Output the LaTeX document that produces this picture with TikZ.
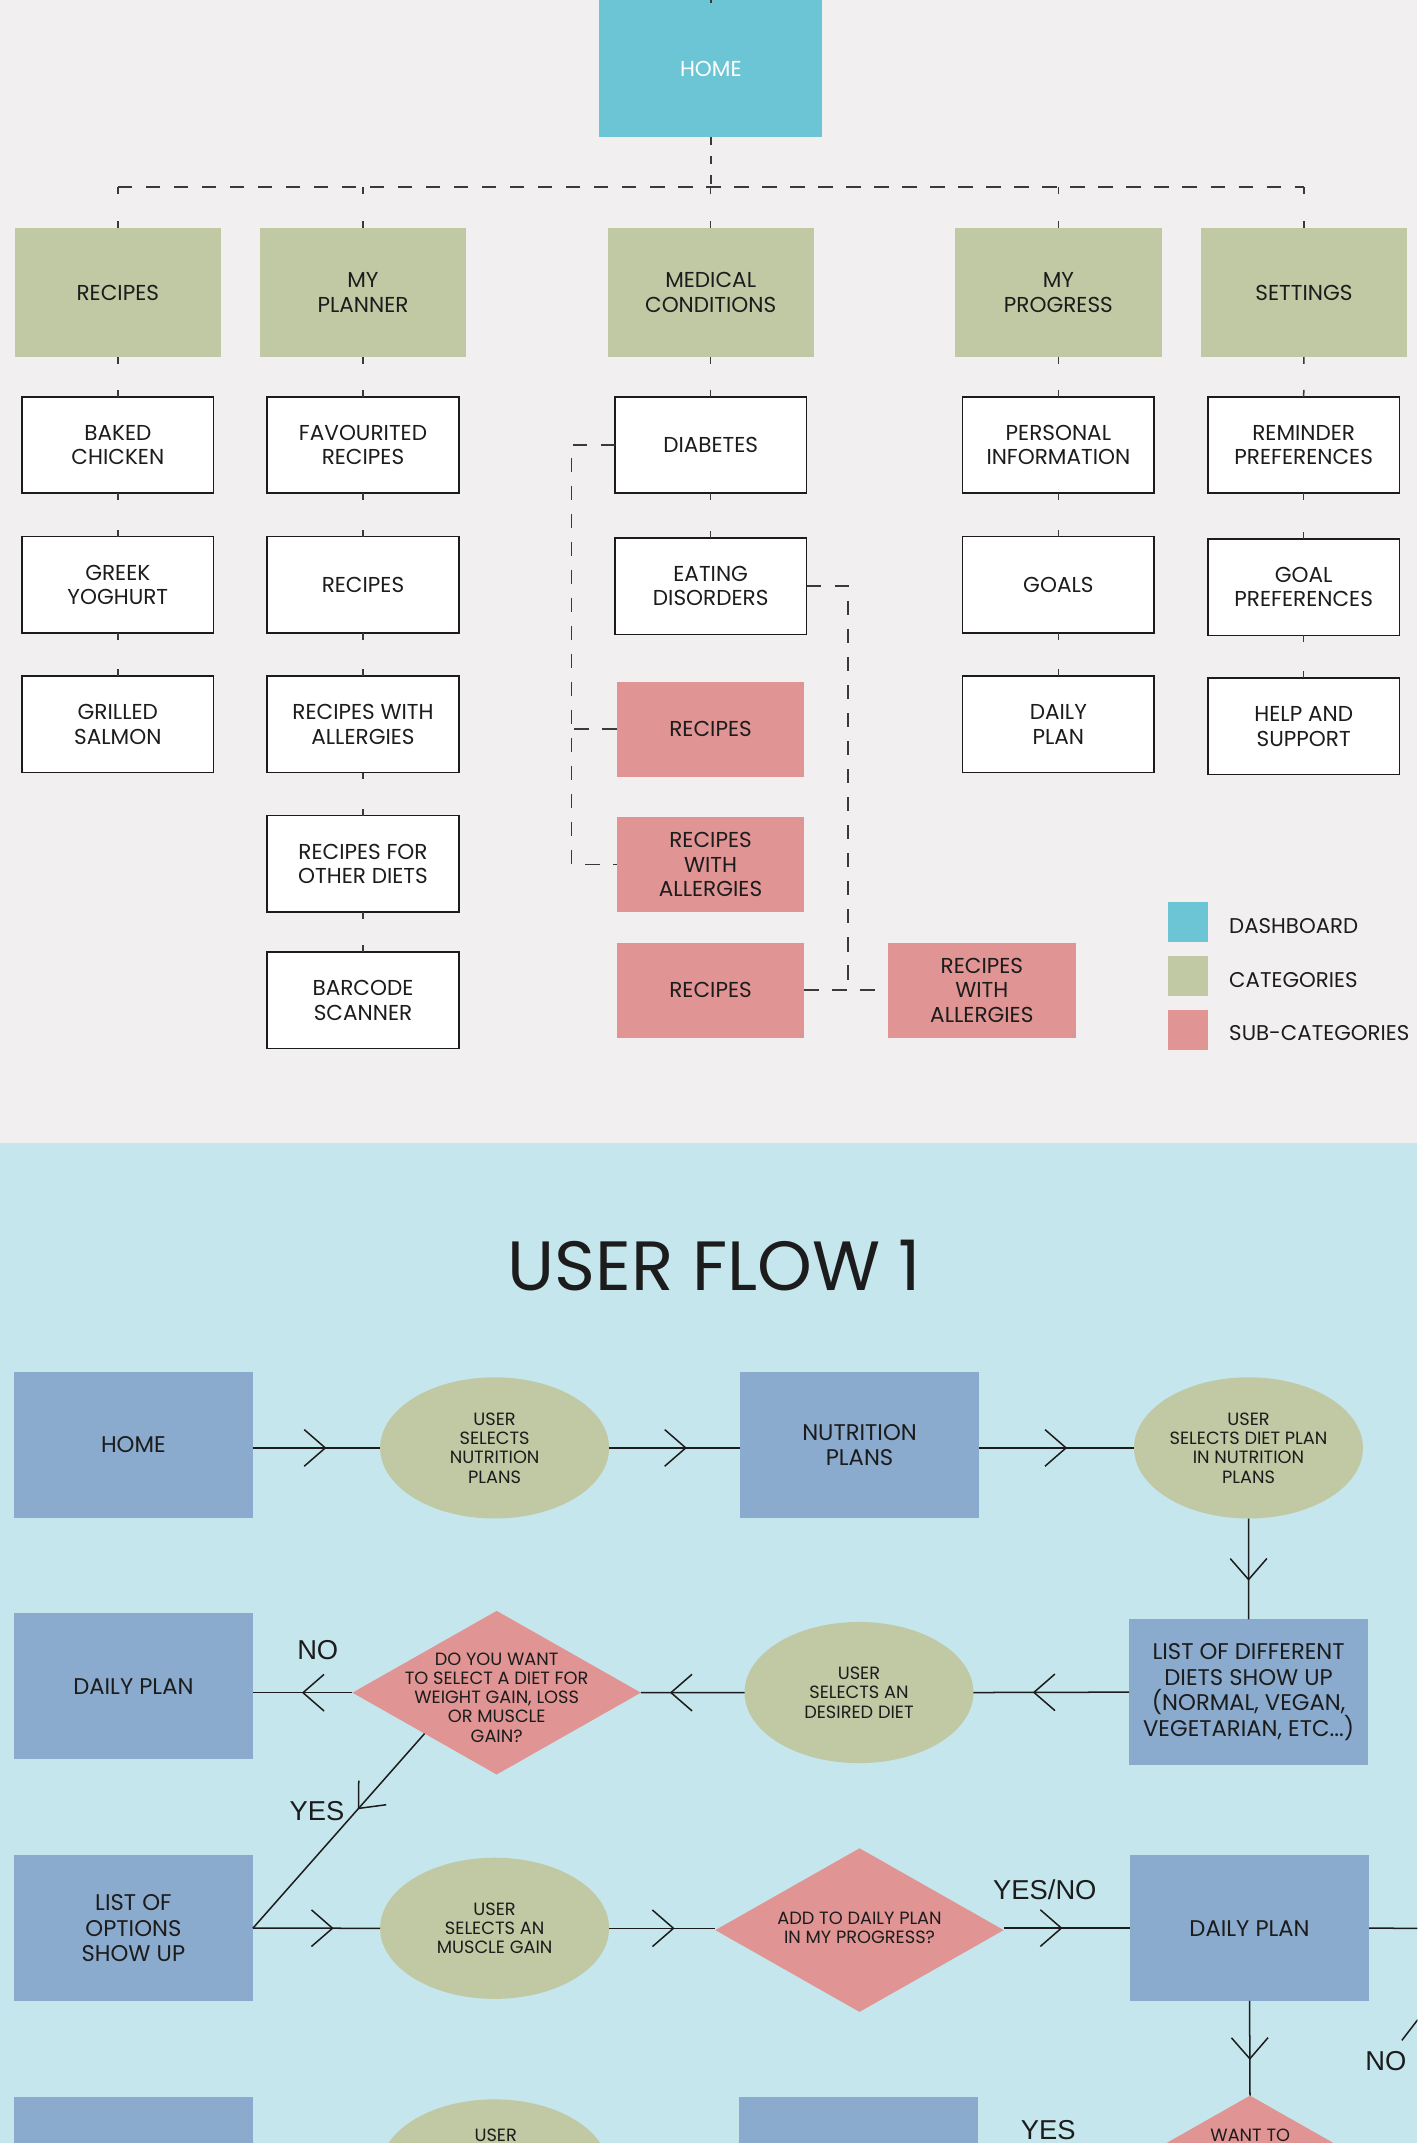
\documentclass[tikz,border=0pt]{standalone}
\usepackage{fontspec}
\setmainfont{Poppins}
\newfontfamily\lblfont{Liberation Sans}
\usetikzlibrary{shapes.geometric,decorations.markings}
\definecolor{topbg}{HTML}{F1EFF0}
\definecolor{botbg}{HTML}{C5E6EC}
\definecolor{homec}{HTML}{6CC5D5}
\definecolor{catc}{HTML}{C0C8A4}
\definecolor{subc}{HTML}{E09494}
\definecolor{flowb}{HTML}{8AABCD}
\definecolor{ink}{HTML}{1C1C1C}
\definecolor{dashc}{HTML}{3A3A3A}
\tikzset{
  every node/.style={inner sep=0pt, outer sep=0pt, text=ink, align=center},
  toplbl/.style={font=\fontsize{15.8}{17.8}\selectfont},
  homebox/.style={toplbl, fill=homec, text=white, minimum width=163.4pt, minimum height=100.3pt},
  catbox/.style={toplbl, fill=catc, minimum width=151pt, minimum height=94.5pt},
  itembox/.style={toplbl, fill=white, draw=ink, line width=1.2pt, minimum width=140.2pt, minimum height=70.5pt},
  subbox/.style={toplbl, fill=subc, minimum width=137.3pt, minimum height=69.4pt},
  legsq/.style={minimum width=29pt, minimum height=29.3pt},
  legtxt/.style={anchor=west, font=\fontsize{15.6}{18}\selectfont},
  tickln/.style={draw=dashc, line width=1.1pt, dash pattern=on 5pt off 3000pt},
  dashln/.style={draw=dashc, line width=1.1pt, dash pattern=on 10.5pt off 10pt},
  frect/.style={fill=flowb, minimum width=175pt, minimum height=106.6pt, font=\fontsize{16.6}{18.7}\selectfont},
  fell/.style={ellipse, fill=catc, minimum width=167.5pt, minimum height=103.3pt, font=\fontsize{13}{14.1}\selectfont},
  fdia/.style={diamond, fill=subc, minimum width=211pt, minimum height=119.7pt},
  ftxt/.style={font=\fontsize{13}{14.1}\selectfont},
  yn/.style={font={\lblfont\fontsize{20}{22}\selectfont}},
  flow/.style={draw=ink, line width=1.1pt},
  chev/.style={postaction={decorate}, decoration={markings, mark=at position #1 with {\draw[ink, line width=1.1pt, solid] (-15.4pt,13.4pt) -- (0pt,0pt) -- (-15.4pt,-13.4pt);}}}
}
\begin{document}
\begin{tikzpicture}[x=1pt,y=-1pt]
\useasboundingbox (0,0) rectangle (1037,1568);
\begin{scope}
\clip (0,0) rectangle (1037,1568);
\fill[topbg] (0,0) rectangle (1037,836.2);
\fill[botbg] (0,836.2) rectangle (1037,1568);

% ---------- sitemap ----------
\node[homebox] (home) at (520.1,50.15) {HOME};
\node[catbox] (crec) at (86.2,214) {RECIPES};
\node[catbox] (cpla) at (265.6,214) {MY\\PLANNER};
\node[catbox] (cmed) at (520,214) {MEDICAL\\CONDITIONS};
\node[catbox] (cpro) at (774.4,214) {MY\\PROGRESS};
\node[catbox] (cset) at (954.1,214) {SETTINGS};

\node[itembox] (i11) at (86.2,325.6) {BAKED\\CHICKEN};
\node[itembox] (i12) at (86.2,427.8) {GREEK\\YOGHURT};
\node[itembox] (i13) at (86.2,530) {GRILLED\\SALMON};
\node[itembox] (i21) at (265.6,325.6) {FAVOURITED\\RECIPES};
\node[itembox] (i22) at (265.6,427.8) {RECIPES};
\node[itembox] (i23) at (265.6,530) {RECIPES WITH\\ALLERGIES};
\node[itembox] (i24) at (265.6,632) {RECIPES FOR\\OTHER DIETS};
\node[itembox] (i25) at (265.6,731.9) {BARCODE\\SCANNER};
\node[itembox] (i31) at (520,325.6) {DIABETES};
\node[itembox] (i32) at (520,428.9) {EATING\\DISORDERS};
\node[subbox] (s1) at (519.9,533.45) {RECIPES};
\node[subbox] (s2) at (519.9,632.55) {RECIPES\\WITH\\ALLERGIES};
\node[subbox] (s3) at (519.9,724.5) {RECIPES};
\node[subbox] (s4) at (718.4,724.5) {RECIPES\\WITH\\ALLERGIES};
\node[itembox] (i41) at (774.4,325.6) {PERSONAL\\INFORMATION};
\node[itembox] (i42) at (774.4,427.8) {GOALS};
\node[itembox] (i43) at (774.4,530) {DAILY\\PLAN};
\node[itembox] (i51) at (953.9,325.6) {REMINDER\\PREFERENCES};
\node[itembox] (i52) at (953.9,429.6) {GOAL\\PREFERENCES};
\node[itembox] (i53) at (953.9,531.5) {HELP AND\\SUPPORT};

\coordinate (hbar) at (520.1,137);
\draw[draw=dashc, line width=1.1pt] (home.north) -- ++(0,2.5);
\draw[draw=dashc, line width=1.1pt, dash pattern=on 6pt off 8pt] (home.south) -- (hbar);
\draw[dashln] (crec.north |- hbar) -- (cset.north |- hbar);
\foreach \c in {crec,cpla,cmed,cpro,cset}{
  \draw[tickln] (\c.north) -- (\c.north |- hbar);
  \draw[tickln] (\c.north |- hbar) -- (\c.north);
}
\foreach \a/\b in {crec/i11,i11/i12,i12/i13,cpla/i21,i21/i22,i22/i23,i23/i24,i24/i25,cmed/i31,i31/i32,cpro/i41,i41/i42,i42/i43,cset/i51,i51/i52,i52/i53}{
  \draw[tickln] (\a.south) -- (\b.north);
  \draw[tickln] (\b.north) -- (\a.south);
}
\coordinate (lbot) at (418.3,632.55);
\draw[dashln] (i31.west) -| (lbot) -- (s2.west);
\draw[dashln] (s1.west) -- (s1.west -| lbot);
\coordinate (rj) at (620.3,724.5);
\draw[dashln] (i32.east) -| (rj);
\draw[dashln] (s3.east) -- (s4.west);

% legend
\node[legsq, fill=homec] (lq1) at (869.1,674.7) {};
\node[legsq, fill=catc] (lq2) at (869.1,714.3) {};
\node[legsq, fill=subc] (lq3) at (869.1,753.5) {};
\node[legtxt] (lt1) at (899.4,677.4) {DASHBOARD};
\node[legtxt] (lt2) at (899.4,717.2) {CATEGORIES};
\node[legtxt] (lt3) at (899.4,756) {SUB-CATEGORIES};

% ---------- user flow ----------
\node[font=\fontsize{51}{54}\selectfont] (title) at (522.7,926) {USER FLOW 1};
\node[frect] (fhome) at (97.6,1057.3) {HOME};
\node[fell] (fe1) at (361.9,1059.4) {USER\\SELECTS\\NUTRITION\\PLANS};
\node[frect] (fnp) at (628.9,1057.3) {NUTRITION\\PLANS};
\node[fell] (fe2) at (913.5,1059.4) {USER\\SELECTS DIET PLAN\\IN NUTRITION\\PLANS};
\node[frect] (fld) at (913.6,1238.1) {LIST OF DIFFERENT\\DIETS SHOW UP\\(NORMAL, VEGAN,\\VEGETARIAN, ETC...)};
\node[fell] (fe3) at (628.5,1238.4) {USER\\SELECTS AN\\DESIRED DIET};
\node[fdia] (fd1) at (363.4,1238.5) {};
\node[ftxt] (fd1t) at (363.4,1242) {DO YOU WANT\\TO SELECT A DIET FOR\\WEIGHT GAIN, LOSS\\OR MUSCLE\\GAIN?};
\node[frect] (fdp1) at (97.6,1233.7) {DAILY PLAN};
\node[yn] (no1) at (232.5,1207) {NO};
\node[yn] (yes1) at (232,1325) {YES};
\node[frect] (flo) at (97.6,1410.75) {LIST OF\\OPTIONS\\SHOW UP};
\node[fell] (fe4) at (361.9,1410.9) {USER\\SELECTS AN\\MUSCLE GAIN};
\node[fdia] (fd2) at (628.9,1412.2) {};
\node[ftxt] (fd2t) at (628.9,1410.5) {ADD TO DAILY PLAN\\IN MY PROGRESS?};
\node[yn] (yn1) at (764.5,1382.6) {YES/NO};
\node[frect] (fdp2) at (914.3,1410.75) {DAILY PLAN};
\node[fdia] (fd3) at (914.6,1593.2) {};
\node[ftxt] (fd3t) at (914.8,1562) {WANT TO};
\node[yn] (no2) at (1014,1508) {NO};
\node[frect] (fr4a) at (97.5,1587.9) {};
\node[fell] (fe5) at (361.7,1587.7) {};
\node[ftxt] (fe5t) at (362.7,1562) {USER};
\node[frect] (fr4b) at (628.3,1587.9) {};
\node[yn] (yes2) at (767,1558.5) {YES};
\coordinate (redge) at (1045,1411);
\coordinate (nos) at (1025.7,1492.9);

\draw[flow, chev=52.9pt] (fhome.east |- fe1.west) -- (fe1.west);
\draw[flow, chev=56.1pt] (fe1.east) -- (fnp.west |- fe1.east);
\draw[flow, chev=63.6pt] (fnp.east |- fe2.west) -- (fe2.west);
\draw[flow, chev=44.7pt] (fe2.south) -- (fld.north);
\draw[flow, chev=69.6pt] (fld.west) -- (fe3.east);
\draw[flow, chev=53.8pt] (fe3.west) -- (fd1.east);
\draw[flow, chev=36.2pt] (fd1.west) -- (fdp1.east |- fd1.west);
\draw[flow, chev=73pt] (fd1.south west) -- (flo.east);
\draw[flow, chev=58.2pt] (flo.east) -- (fe4.west);
\draw[flow, chev=47.1pt] (fe4.east) -- (fd2.west |- fe4.east);
\draw[flow, chev=42.2pt] (fd2.east |- fdp2.west) -- (fdp2.west);
\draw[flow] (fdp2.east) -- (redge);
\draw[flow, chev=42.3pt] (fdp2.south) -- (fd3.north);
\draw[flow] (nos) -- ++(22.6,-29.4);
\end{scope}
\end{tikzpicture}
\end{document}
